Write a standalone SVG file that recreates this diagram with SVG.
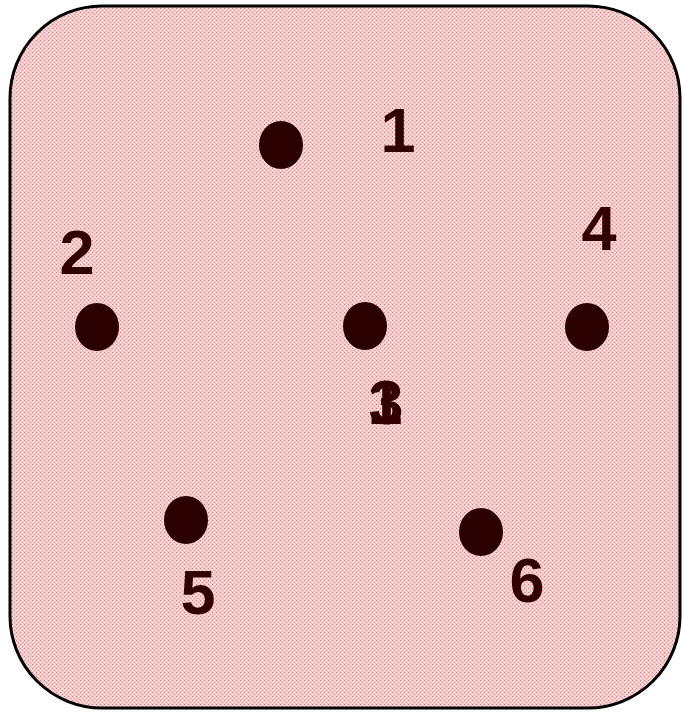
<svg xmlns="http://www.w3.org/2000/svg" width="682" height="712" viewBox="0 0 682 712">
<defs>
<pattern id="dots" width="4" height="4" patternUnits="userSpaceOnUse">
<rect width="4" height="4" fill="#f9c8c8"/>
<rect x="0" y="0" width="1" height="1" fill="#f26a6a"/>
<rect x="2" y="2" width="1" height="1" fill="#f59090"/>
<rect x="2" y="0" width="1" height="1" fill="#ffffff"/>
<rect x="0" y="2" width="1" height="1" fill="#ffffff"/>
</pattern>
<style>
.dot{fill:#2a0000}
.lbl{font-family:"Liberation Sans",Arial,sans-serif;font-weight:bold;font-size:63px;fill:#330000;text-anchor:middle}
</style>
</defs>
<rect x="10" y="6" width="670" height="702" rx="92" ry="92" fill="url(#dots)" stroke="#000" stroke-width="3"/>
<g id="node1"><ellipse class="dot" cx="281" cy="145" rx="22" ry="24"/><text class="lbl" x="398" y="152">1</text></g>
<g id="node2"><ellipse class="dot" cx="97" cy="327" rx="22" ry="24"/><text class="lbl" x="77" y="274">2</text></g>
<g id="node3"><ellipse class="dot" cx="365" cy="326" rx="22" ry="24"/><text class="lbl" x="386" y="424">3</text><text class="lbl" x="385" y="424">1</text></g>
<g id="node4"><ellipse class="dot" cx="587" cy="327" rx="22" ry="24"/><text class="lbl" x="599" y="250">4</text></g>
<g id="node5"><ellipse class="dot" cx="186" cy="520" rx="22" ry="24"/><text class="lbl" x="198" y="614">5</text></g>
<g id="node6"><ellipse class="dot" cx="481" cy="532" rx="22" ry="24"/><text class="lbl" x="527" y="602">6</text></g>
<g id="connectors"></g>
</svg>
